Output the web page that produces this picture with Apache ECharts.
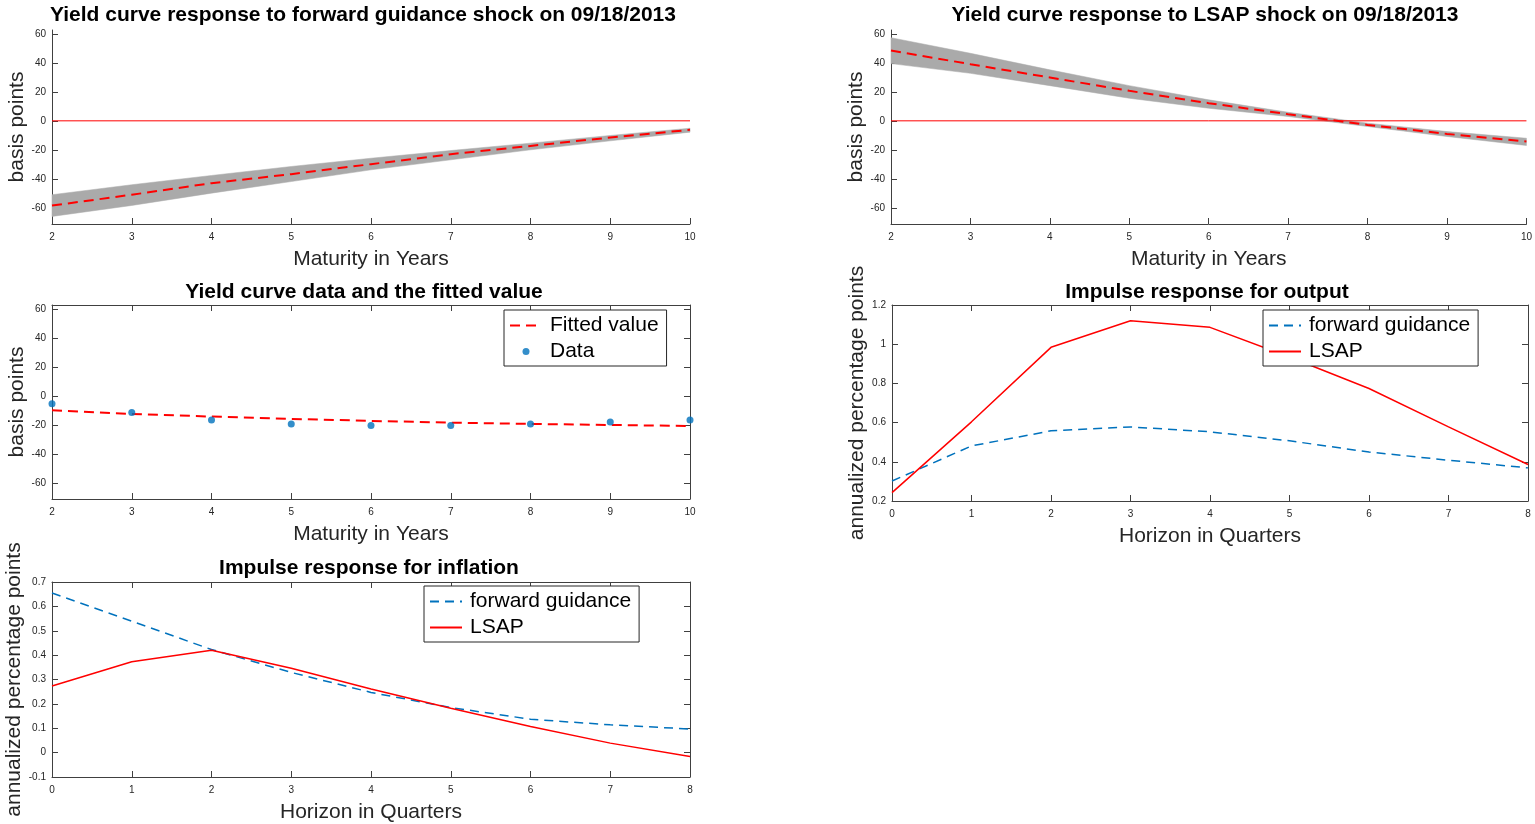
<!DOCTYPE html>
<html>
<head>
<meta charset="utf-8">
<title>Yield curve and impulse responses</title>
<script src="https://cdn.jsdelivr.net/npm/echarts@6/dist/echarts.min.js"></script>
<style>
  html, body { margin: 0; padding: 0; background: #ffffff; }
  #chart { width: 1535px; height: 824px; }
</style>
</head>
<body>
<div id="chart"></div>
<script>
// ---- data ----
const maturities = [2, 3, 4, 5, 6, 7, 8, 9, 10];
const horizons = [0, 1, 2, 3, 4, 5, 6, 7, 8];

// forward guidance shock on 09/18/2013: point estimate and draw envelope (bp)
const fgShockMean  = [-58.5, -51.0, -43.0, -36.8, -29.9, -23.0, -17.3, -11.5, -6.2];
const fgBandUpper  = [-51.0, -44.1, -37.7, -31.5, -25.8, -20.5, -15.4, -10.1, -5.1];
const fgBandLower  = [-66.0, -58.4, -49.9, -41.9, -33.8, -26.9, -20.0, -13.8, -7.8];

// LSAP shock on 09/18/2013
const lsapShockMean = [48.5, 39.1, 29.9, 20.7, 12.2, 4.6, -2.8, -9.0, -14.3];
const lsapBandUpper = [57.4, 46.6, 35.2, 24.3, 14.5, 5.9, -1.6, -7.4, -12.0];
const lsapBandLower = [39.5, 32.8, 24.3, 15.6, 8.7, 3.0, -3.9, -10.8, -17.0];

// zero reference line across the maturity range
const zeroLineX = [2, 10];
const zeroLineY = [0, 0];

// observed yield changes and the fitted curve
const fittedValue = [-9.9, -12.5, -14.3, -15.9, -17.3, -18.5, -19.4, -20.1, -20.8];
const yieldData   = [-5.5, -11.5, -16.6, -19.4, -20.5, -20.5, -19.4, -18.0, -16.6];

// impulse responses (annualized percentage points)
const outputFG   = [0.302, 0.481, 0.558, 0.578, 0.553, 0.507, 0.450, 0.408, 0.369];
const outputLSAP = [0.243, 0.604, 0.984, 1.120, 1.086, 0.935, 0.774, 0.578, 0.386];
const inflFG     = [0.655, 0.539, 0.423, 0.329, 0.247, 0.185, 0.137, 0.114, 0.097];
const inflLSAP   = [0.273, 0.373, 0.420, 0.346, 0.261, 0.182, 0.107, 0.039, -0.016];

// tick labels
const yieldTicks = [-60, -40, -20, 0, 20, 40, 60];
const outputTicks = [0.2, 0.4, 0.6, 0.8, 1, 1.2];
const inflTicks = [-0.1, 0, 0.1, 0.2, 0.3, 0.4, 0.5, 0.6, 0.7];

// ---- styling ----
const FONT = '"Liberation Sans", Arial, Helvetica, sans-serif';
const AXIS_COLOR = '#404040';
const TEXT_COLOR = '#262626';
const RED = '#ff0000';
const BLUE = '#0072bd';
const BAND = '#aaaaaa';
const YIELD_MIN = -71.2, YIELD_MAX = 62.7;

const zip = (xs, ys) => xs.map((x, i) => [x, ys[i]]);

const grids = [
  { left: 52,  top: 30,  width: 638, height: 194 },  // 0 forward guidance curve
  { left: 891, top: 30,  width: 637, height: 194 },  // 1 LSAP curve
  { left: 52,  top: 305, width: 638, height: 194 },  // 2 data and fit
  { left: 892, top: 305, width: 636, height: 196 },  // 3 output IRF
  { left: 52,  top: 582, width: 638, height: 195 }   // 4 inflation IRF
];

const lineStyle = { color: AXIS_COLOR, width: 1 };

function xAxisMain(gridIndex, min, max, name) {
  return {
    type: 'value', gridIndex, min, max, interval: 1,
    axisLine: { show: true, onZero: false, lineStyle },
    axisTick: { show: true, inside: true, length: 6, lineStyle },
    axisLabel: { fontSize: 10, color: TEXT_COLOR, fontFamily: FONT, margin: 8 },
    splitLine: { show: false },
    name, nameLocation: 'middle', nameGap: 25,
    nameTextStyle: { fontSize: 21, color: TEXT_COLOR, fontFamily: FONT }
  };
}
function xAxisTop(gridIndex, min, max) {
  return {
    type: 'value', gridIndex, min, max, interval: 1, position: 'top',
    axisLine: { show: true, onZero: false, lineStyle },
    axisTick: { show: true, inside: true, length: 6, lineStyle },
    axisLabel: { show: false },
    splitLine: { show: false }
  };
}
function yAxisMain(gridIndex, min, max, ticks, name) {
  return {
    type: 'value', gridIndex, min, max,
    axisLine: { show: true, onZero: false, lineStyle },
    axisTick: { show: true, inside: true, length: 6, lineStyle, customValues: ticks },
    axisLabel: { fontSize: 10, color: TEXT_COLOR, fontFamily: FONT, margin: 6, customValues: ticks },
    splitLine: { show: false },
    name, nameLocation: 'middle', nameGap: 24, nameRotate: 90,
    nameTextStyle: { fontSize: 21, color: TEXT_COLOR, fontFamily: FONT }
  };
}
function yAxisRight(gridIndex, min, max, ticks) {
  return {
    type: 'value', gridIndex, min, max, position: 'right',
    axisLine: { show: true, onZero: false, lineStyle },
    axisTick: { show: true, inside: true, length: 6, lineStyle, customValues: ticks },
    axisLabel: { show: false, customValues: ticks },
    splitLine: { show: false }
  };
}

const xAxes = [
  xAxisMain(0, 2, 10, 'Maturity in Years'),
  xAxisMain(1, 2, 10, 'Maturity in Years'),
  xAxisMain(2, 2, 10, 'Maturity in Years'),
  xAxisMain(3, 0, 8, 'Horizon in Quarters'),
  xAxisMain(4, 0, 8, 'Horizon in Quarters'),
  xAxisTop(2, 2, 10),
  xAxisTop(3, 0, 8),
  xAxisTop(4, 0, 8)
];
const yAxes = [
  yAxisMain(0, YIELD_MIN, YIELD_MAX, yieldTicks, 'basis points'),
  yAxisMain(1, YIELD_MIN, YIELD_MAX, yieldTicks, 'basis points'),
  yAxisMain(2, YIELD_MIN, YIELD_MAX, yieldTicks, 'basis points'),
  yAxisMain(3, 0.2, 1.2, outputTicks, 'annualized percentage points'),
  yAxisMain(4, -0.1, 0.7, inflTicks, 'annualized percentage points'),
  yAxisRight(2, YIELD_MIN, YIELD_MAX, yieldTicks),
  yAxisRight(3, 0.2, 1.2, outputTicks),
  yAxisRight(4, -0.1, 0.7, inflTicks)
];

// envelope of the draws: one polygon along the upper edge and back along the lower edge
function bandSeries(idx, lower, upper) {
  return {
    type: 'custom', xAxisIndex: idx, yAxisIndex: idx, silent: true, z: 1,
    data: maturities.map((x, i) => [x, lower[i], upper[i]]),
    encode: { x: 0, y: [1, 2] },
    renderItem(params, api) {
      if (params.dataIndex !== 0) return;
      const top = maturities.map((x, i) => api.coord([x, upper[i]]));
      const bottom = maturities.map((x, i) => api.coord([x, lower[i]])).reverse();
      return {
        type: 'polygon',
        shape: { points: top.concat(bottom) },
        style: { fill: BAND, stroke: BAND, lineWidth: 0.5 }
      };
    }
  };
}
function zeroLine(idx) {
  return {
    type: 'line', xAxisIndex: idx, yAxisIndex: idx, data: zip(zeroLineX, zeroLineY),
    symbol: 'none', silent: true, z: 2,
    lineStyle: { color: RED, width: 1, type: 'solid' }
  };
}
function shockMean(idx, values) {
  return {
    type: 'line', xAxisIndex: idx, yAxisIndex: idx, data: zip(maturities, values),
    symbol: 'none', silent: true, z: 3,
    lineStyle: { color: RED, width: 2, type: [10, 6] }
  };
}

const series = [
  bandSeries(0, fgBandLower, fgBandUpper),
  zeroLine(0),
  shockMean(0, fgShockMean),
  bandSeries(1, lsapBandLower, lsapBandUpper),
  zeroLine(1),
  shockMean(1, lsapShockMean),

  { type: 'line', name: 'Fitted value', xAxisIndex: 2, yAxisIndex: 2,
    data: zip(maturities, fittedValue), symbol: 'none', z: 3,
    itemStyle: { color: RED },
    lineStyle: { color: RED, width: 2, type: [10, 6] } },
  { type: 'scatter', name: 'Data', xAxisIndex: 2, yAxisIndex: 2,
    data: zip(maturities, yieldData), symbol: 'circle', symbolSize: 7, z: 4,
    itemStyle: { color: BLUE } },

  { type: 'line', name: 'forward guidance', xAxisIndex: 3, yAxisIndex: 3,
    data: zip(horizons, outputFG), symbol: 'none', z: 3,
    itemStyle: { color: BLUE },
    lineStyle: { color: BLUE, width: 1.5, type: [9, 6] } },
  { type: 'line', name: 'LSAP', xAxisIndex: 3, yAxisIndex: 3,
    data: zip(horizons, outputLSAP), symbol: 'none', z: 3,
    itemStyle: { color: RED },
    lineStyle: { color: RED, width: 1.5, type: 'solid' } },

  { type: 'line', name: 'forward guidance', xAxisIndex: 4, yAxisIndex: 4,
    data: zip(horizons, inflFG), symbol: 'none', z: 3,
    itemStyle: { color: BLUE },
    lineStyle: { color: BLUE, width: 1.5, type: [9, 6] } },
  { type: 'line', name: 'LSAP', xAxisIndex: 4, yAxisIndex: 4,
    data: zip(horizons, inflLSAP), symbol: 'none', z: 3,
    itemStyle: { color: RED },
    lineStyle: { color: RED, width: 1.5, type: 'solid' } }
];

// legend entries for line series show only the line sample
const lineOnly = name => ({ name, itemStyle: { opacity: 0 } });

function legendBox(left, top, entries) {
  return {
    orient: 'vertical', left, top, data: entries, selectedMode: false,
    itemWidth: 32, itemHeight: 7, itemGap: 5,
    padding: [5, 8, 4, 5],
    backgroundColor: '#ffffff', borderColor: '#262626', borderWidth: 1, borderRadius: 0,
    textStyle: { fontSize: 21, color: '#000000', fontFamily: FONT, padding: [0, 0, 0, 3] }
  };
}

function titleAt(text, cx, top) {
  return {
    text, left: cx, top, textAlign: 'center', padding: 0,
    textStyle: { fontSize: 21, fontWeight: 'bold', color: '#000000', fontFamily: FONT }
  };
}

const option = {
  backgroundColor: '#ffffff',
  animation: false,
  textStyle: { fontFamily: FONT },
  title: [
    titleAt('Yield curve response to forward guidance shock on 09/18/2013', 363, 5),
    titleAt('Yield curve response to LSAP shock on 09/18/2013', 1205, 5),
    titleAt('Yield curve data and the fitted value', 364, 282),
    titleAt('Impulse response for output', 1207, 282),
    titleAt('Impulse response for inflation', 369, 558)
  ],
  legend: [
    legendBox(504, 310, [lineOnly('Fitted value'), 'Data']),
    legendBox(1263, 310, [lineOnly('forward guidance'), lineOnly('LSAP')]),
    legendBox(424, 586, [lineOnly('forward guidance'), lineOnly('LSAP')])
  ],
  grid: grids,
  xAxis: xAxes,
  yAxis: yAxes,
  series
};

const chart = echarts.init(document.getElementById('chart'), null, { renderer: 'canvas' });
chart.setOption(option);
</script>
</body>
</html>
